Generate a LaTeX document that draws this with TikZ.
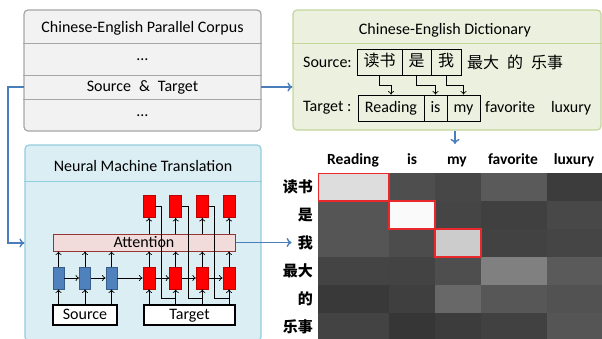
\documentclass[tikz,border=0pt]{standalone}
\usepackage{fontspec}
\setmainfont{Carlito}
\newfontfamily\cjk{Noto Sans CJK SC}
\usetikzlibrary{positioning,arrows.meta}
\definecolor{corpusfill}{HTML}{F2F2F2}
\definecolor{corpusline}{HTML}{A6A6A6}
\definecolor{dictfill}{HTML}{EBF1DE}
\definecolor{dictline}{HTML}{C3D69B}
\definecolor{nmtfill}{HTML}{DBEEF4}
\definecolor{nmtline}{HTML}{93CDDD}
\definecolor{connblue}{HTML}{4A7EBB}
\definecolor{encfill}{HTML}{4F81BD}
\definecolor{encline}{HTML}{385D8A}
\definecolor{attfill}{HTML}{F2DCDB}
\definecolor{attline}{HTML}{943634}
\definecolor{hitred}{HTML}{E8282B}

\begin{document}
\begin{tikzpicture}[x=1pt,y=-1pt,>={To[length=3.5pt,width=6pt]},
  every node/.style={font=\fontsize{16}{19}\selectfont,inner sep=0pt},
  conn/.style={-{To[length=5pt,width=9pt]},draw=connblue,line width=1.4pt},
  nn/.style={->,line width=0.7pt},
  encbox/.style={draw=encline,fill=encfill,line width=0.8pt,minimum width=11,minimum height=22},
  decbox/.style={draw=red!75!black,fill=red,line width=0.8pt,minimum width=12,minimum height=22},
  wordbox/.style={draw,line width=0.8pt,minimum height=26,text height=11.5,text depth=3.5},
  iobox/.style={draw,fill=white,line width=1.2pt,minimum height=20,text height=11.5,text depth=3.5},
  hit/.style={draw=hitred,line width=1.3pt}]
\useasboundingbox (0,0) rectangle (602,338);

% parallel corpus
\node[draw=corpusline,fill=corpusfill,line width=1.2pt,rounded corners=4pt,minimum width=237,minimum height=121] (corpus) at (142.5,70.5) {};
\foreach \y in {43,75,99} \draw[corpusline,line width=1pt] (corpus.west |- 0,\y) -- (corpus.east |- 0,\y);
\node (ctitle) at (142.5,28) {Chinese-English Parallel Corpus};
\node (cdots1) at (142.5,60) {…};
\node[minimum width=237,minimum height=24] (cpair) at (142.5,87) {Source\enspace\&\enspace Target};
\node (cdots2) at (142.5,116) {…};

% dictionary
\node[draw=dictline,fill=dictfill,line width=1.2pt,rounded corners=4pt,minimum width=308,minimum height=120] (dict) at (447,70) {};
\draw[dictline,line width=1pt] (dict.west |- 0,43) -- (dict.east |- 0,43);
\node (dtitle) at (445,30) {Chinese-English Dictionary};
\node[anchor=west] (dsrc) at (303,62) {Source:};
\node[wordbox,minimum width=45] (s1) at (379.5,62) {\cjk 读书};
\node[wordbox,minimum width=29] (s2) at (416.5,62) {\cjk 是};
\node[wordbox,minimum width=30] (s3) at (446,62) {\cjk 我};
\node[anchor=west] (srest) at (467,62) {\cjk 最大\enspace 的\enspace 乐事};
\node[anchor=west] (dtgt) at (303,108) {Target :};
\node[wordbox,minimum width=66] (t1) at (391,108) {Reading};
\node[wordbox,minimum width=23] (t2) at (435.5,108) {is};
\node[wordbox,minimum width=33] (t3) at (463.5,108) {my};
\node[anchor=west] (trest) at (485,108) {favorite\quad luxury};
\foreach \i in {1,2,3} \draw[nn] (s\i.south) -- ++(0,10) -| (t\i.north);

% neural machine translation
\node[draw=nmtline,fill=nmtfill,line width=1.2pt,rounded corners=4pt,minimum width=236,minimum height=196] (nmt) at (143,243) {};
\draw[nmtline,line width=1pt] (nmt.west |- 0,181) -- (nmt.east |- 0,181);
\node (ntitle) at (143,166) {Neural Machine Translation};
\node[draw=attline,fill=attfill,line width=1pt,minimum width=182,minimum height=17] (attn) at (144,242.5) {Attention};
\foreach \x [count=\i] in {58.5,85,111.5} \node[encbox] (enc\i) at (\x,278) {};
\foreach \x [count=\i] in {149,175.7,202.3,229} {
  \node[decbox] (dec\i) at (\x,278) {};
  \node[decbox] (up\i) at (\x,206.5) {};
}
\node[iobox,minimum width=64] (src) at (85,315) {Source};
\node[iobox,minimum width=91] (tgt) at (189.5,315) {Target};
\foreach \i in {1,2,3} {
  \draw[nn] (src.north -| enc\i) -- (enc\i.south);
  \draw[nn] (enc\i.north) -- (attn.south -| enc\i);
}
\foreach \i in {1,...,4} {
  \draw[nn] (tgt.north -| dec\i) -- (dec\i.south);
  \draw[nn] (dec\i.north) -- (attn.south -| dec\i);
  \draw[nn] (attn.north -| up\i) -- (up\i.south);
}
\foreach \i/\j in {enc1/enc2,enc2/enc3,enc3/dec1,dec1/dec2,dec2/dec3,dec3/dec4} \draw[nn] (\i) -- (\j);
\foreach \i/\j in {1/2,2/3,3/4} \draw[line width=0.7pt] (up\i.east) -- ++(6,0) |- ([yshift=-9pt]dec\j.south);

% attention matrix
\foreach \r/\va/\vb/\vc/\vd/\ve in {0/221/78/71/90/60,1/85/250/69/64/72,2/85/76/204/66/69,3/68/67/78/128/90,4/57/63/104/87/82,5/67/54/60/65/85}
  \foreach \xa/\xb/\v in {318/389/\va,389/435/\vb,435/481/\vc,481/547/\vd,547/602/\ve}
    \fill[fill={rgb,255:red,\v;green,\v;blue,\v}] (\xa,173+28*\r) rectangle (\xb,201+28*\r);
\draw[hit] (318.7,173.7) rectangle (389,201);
\draw[hit] (389,201) rectangle (435,229);
\draw[hit] (435,229) rectangle (481,257);
\foreach \w/\x [count=\i] in {Reading/353,is/412,my/457,favorite/513,luxury/574}
  \node[anchor=base,font=\bfseries\fontsize{15.5}{18}\selectfont] (head\i) at (\x,164) {\w};
\foreach \w [count=\i from 0] in {读书,是,我,最大,的,乐事}
  \node[anchor=east,font=\cjk\bfseries\fontsize{15}{18}\selectfont] (row\i) at (313,187+28*\i) {\w};

% connectors
\coordinate (hmin) at (455,144);
\draw[conn] (cpair.west) -- ++(-16,0) |- (nmt.west);
\draw[conn] (cpair.east) -- (cpair.east -| dict.west);
\draw[conn] (dict.south -| hmin) -- (hmin);
\draw[conn] (attn.east) -- ([xshift=-6pt]row2.west |- attn.east);
\end{tikzpicture}
\end{document}
